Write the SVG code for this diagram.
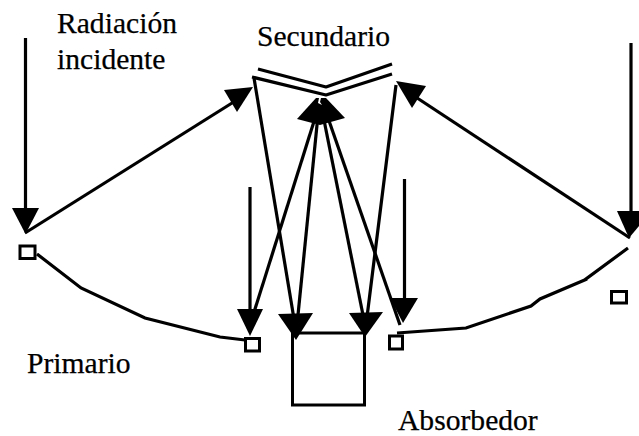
<svg xmlns="http://www.w3.org/2000/svg" width="639" height="436" viewBox="0 0 639 436">
<style>
.l{fill:none;stroke:#000;stroke-width:3.200}
.h{fill:#000;stroke:none}
.b{fill:#fff;stroke:#000;stroke-width:3}
text{font-family:"Liberation Serif","Times New Roman",serif;font-size:29.600px;fill:#000;stroke:#000;stroke-width:.25}
</style>
<rect width="639" height="436" fill="#fff"/>
<g id="connectors">
<path class="l" d="M25.500 38V215"/><path class="h" d="M12 208H39L25.500 234Z"/>
<path class="l" d="M25 233L240 98"/><path class="h" d="M224 90L253 87L237 112Z"/>
<path class="l" d="M250 187V315"/><path class="h" d="M237 309H263L250 336Z"/>
<path class="l" d="M404.500 179V305"/><path class="h" d="M390 298H418L403 323Z"/>
<path class="l" d="M631 43V220"/><path class="h" d="M617 211H639V226L629 238Z"/>
<path class="l" d="M630 238L405 90"/><path class="h" d="M396 81L426 86L412 108Z"/>
<path class="l" d="M254 78L295 325"/><path class="h" d="M278 314L313 313L296 340Z"/>
<path class="l" d="M396 85L366 325"/><path class="h" d="M349 313L383 312L365 337Z"/>
<path class="l" d="M318 115L297 325"/><path class="l" d="M323 115L365 325"/>
<path class="l" d="M316 115L250 325"/><path class="l" d="M327 115L400 325"/>
<path class="h" d="M297 119L316 98H326L345 118L320 125Z"/>
<path class="l" d="M252 77L326 95L392 74" style="stroke-linejoin:bevel"/>
<path class="l" d="M258 69L326 87L392 64" style="stroke-linejoin:bevel"/>
<path fill="#fff" d="M319 98L321 98L320 102L322 105L318 103Z"/>
</g>
<g id="primario-izq">
<path class="l" d="M37 254L81 288L145 318L220 337L245 340"/>
<rect class="b" x="20" y="246" width="15" height="12.500"/>
<rect class="b" x="245.500" y="338.500" width="14" height="12.500"/>
</g>
<g id="primario-der">
<path class="l" d="M397 333L466 328L531 306L540 299L587 279L586 279L628 248"/>
<rect class="b" x="389.500" y="336" width="13" height="13"/>
<rect class="b" x="611.500" y="291.500" width="15" height="11.500"/>
</g>
<g id="absorbedor">
<rect x="292.500" y="333" width="72" height="72" fill="none" stroke="#000" stroke-width="3"/>
</g>
<g id="labels">
<text x="57" y="33">Radiación</text>
<text x="57" y="69">incidente</text>
<text x="257" y="46">Secundario</text>
<text x="27" y="373">Primario</text>
<text x="398" y="429.500">Absorbedor</text>
</g>
</svg>
